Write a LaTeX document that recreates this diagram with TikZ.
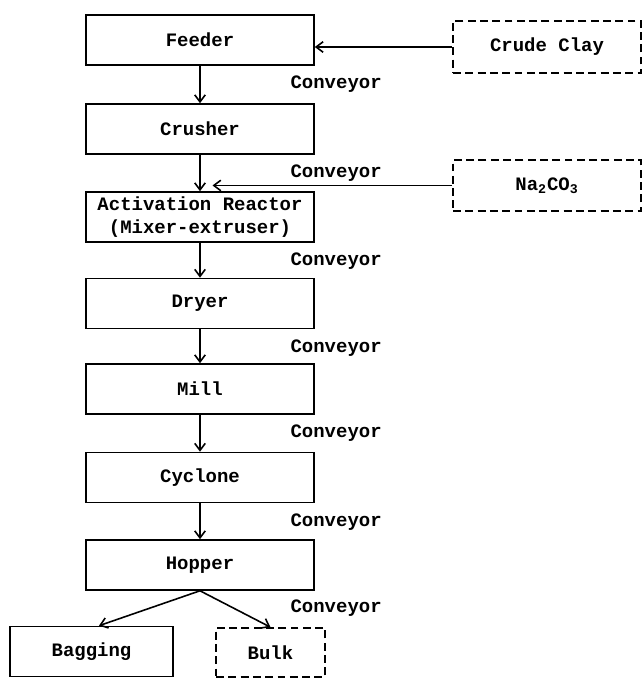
\documentclass[tikz,border=0pt]{standalone}
\usepackage{fontspec}
\setmainfont{Liberation Mono}
\usetikzlibrary{arrows.meta,positioning,calc}

\begin{document}
\begin{tikzpicture}[
  every edge/.style={draw,>=Stealth},
  font=\fontsize{10.8}{13}\selectfont\bfseries,
  line width=0.9pt,
  unit/.style={
    rectangle, draw, align=center,
    minimum width=4.56cm, minimum height=1cm,
    inner sep=2pt,
  },
  feed/.style={
    rectangle, draw, align=center,
    dash pattern=on 4.5pt off 2.5pt,
    minimum width=3.76cm, minimum height=1.05cm,
  },
  conv/.style={anchor=west, inner sep=0pt},
  flow/.style={-{Straight Barb[length=4pt,width=6pt]}},
]
  \useasboundingbox (0,0) rectangle (12.84,13.56);
  % PROCESS LINE
  \node[unit] (feeder)  at (4.0,12.76) {Feeder};
  \node[unit] (crusher) at (4.0,10.98) {Crusher};
  \node[unit] (reactor) at (4.0,9.22)  {Activation Reactor\\(Mixer-extruser)};
  \node[unit] (dryer)   at (4.0,7.49)  {Dryer};
  \node[unit] (mill)    at (4.0,5.78)  {Mill};
  \node[unit] (cyclone) at (4.0,4.01)  {Cyclone};
  \node[unit] (hopper)  at (4.0,2.26)  {Hopper};
  % PRODUCTS
  \node[unit, minimum width=3.26cm] (bagging) at (1.83,0.53) {Bagging};
  \node[feed, minimum width=2.18cm, minimum height=0.98cm] (bulk) at (5.41,0.51) {Bulk};
  % RAW MATERIALS
  \node[feed] (clay) at (10.94,12.62) {Crude Clay};
  \node[feed, minimum height=1.02cm] (soda) at (10.94,9.85) {Na\textsubscript{2}CO\textsubscript{3}};
  % conveyors
  \foreach \a/\b in {feeder/crusher, crusher/reactor, reactor/dryer,
                     dryer/mill, mill/cyclone, cyclone/hopper}{
    \draw[flow] (\a.south) -- (\b.north);
    \node[conv] (\a-conv) at ([xshift=-0.5cm, yshift=-0.37cm]\a.south east) {Conveyor};
  }
  \node[conv] (hopper-conv) at ([xshift=-0.5cm, yshift=-0.35cm]hopper.south east) {Conveyor};
  % feeds
  \draw[flow] (clay.west) -- (feeder.east |- clay.west);
  \draw[flow] (soda.west) -- ([xshift=0.25cm]reactor.north |- soda.west);
  % split to products
  \draw[flow] (hopper.south) -- ([xshift=0.15cm]bagging.north);
  \draw[flow] (hopper.south) -- (bulk.north);
\end{tikzpicture}
\end{document}
